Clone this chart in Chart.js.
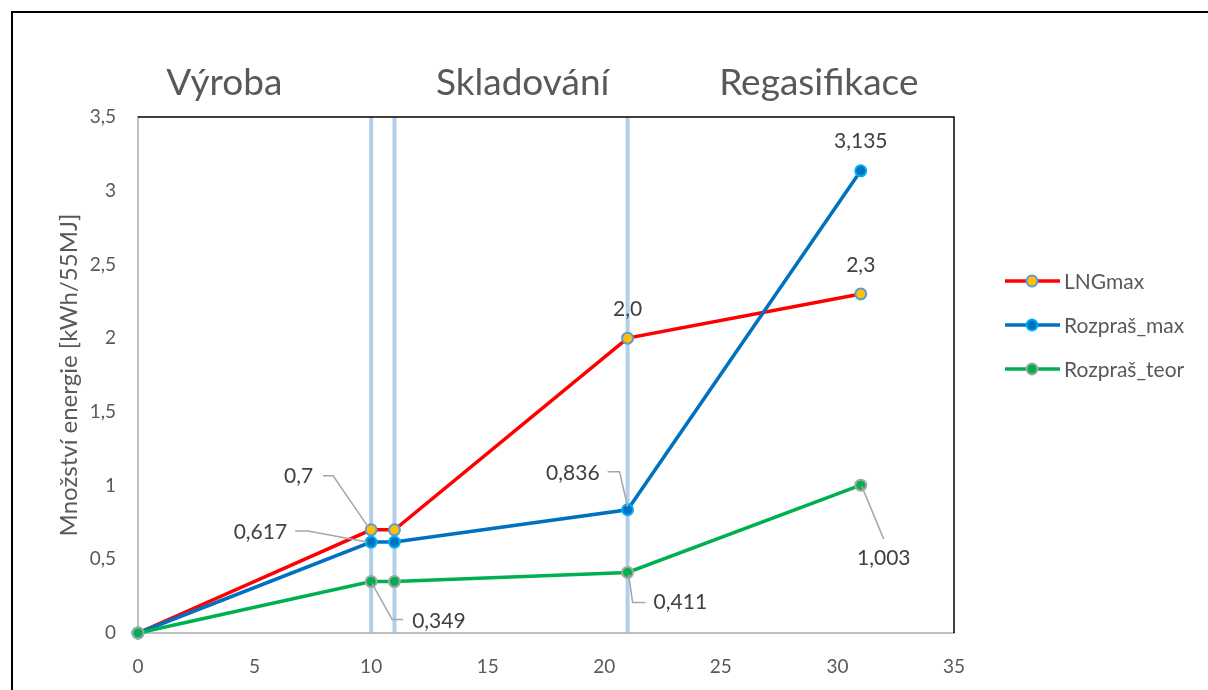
<!DOCTYPE html>
<html lang="cs">
<head>
<meta charset="utf-8">
<title>Množství energie</title>
<script src="https://cdn.jsdelivr.net/npm/chart.js@4.4.1/dist/chart.umd.min.js"></script>
<style>
  html, body { margin: 0; padding: 0; background: #fff; }
  canvas { display: block; }
</style>
</head>
<body>
<canvas id="energyChart" width="1208" height="690"></canvas>
<script>
// hodnoty grafu
const xSteps = [0, 10, 11, 21, 31];
const lngMax = [0, 0.7, 0.7, 2.0, 2.3];
const rozprasMax = [0, 0.617, 0.617, 0.836, 3.135];
const rozprasTeor = [0, 0.349, 0.349, 0.411, 1.003];
const seriesNames = ["LNGmax", "Rozpraš_max", "Rozpraš_teor"];
const phaseNames = ["Výroba", "Skladování", "Regasifikace"];
const phaseBounds = [10, 11, 21];
const xTicks = [0, 5, 10, 15, 20, 25, 30, 35];
const yTicks = [0, 0.5, 1, 1.5, 2, 2.5, 3, 3.5];
const yTitle = "Množství energie [kWh/55MJ]";

const FONT = "Lato, 'Open Sans', sans-serif";
const GREY_TEXT = "#595959";

// vzhled řad
const styles = [
  { line: "#FF0000", fill: "#FFC000", border: "#5B9BD5", decimals: 1 },
  { line: "#0070C0", fill: "#0070C0", border: "#00B0F0", decimals: 3 },
  { line: "#00B050", fill: "#00B050", border: "#A5A5A5", decimals: 3 }
];

// umístění popisků (posun od bodu v px, odkazová čára)
const labelPlacement = [
  {
    1: { dx: -58, dy: -54, align: "right", leader: [[-48, -54], [-38, -54], [-3, -3]] },
    3: { dx: 0, dy: -29, align: "center" },
    4: { dx: 0, dy: -29, align: "center" }
  },
  {
    1: { dx: -84, dy: -10, align: "right", leader: [[-76, -11], [-63, -11], [-4, 0]] },
    3: { dx: -28, dy: -37, align: "right", leader: [[-20, -38], [-8, -38], [0, -3]] },
    4: { dx: 0, dy: -30, align: "center" }
  },
  {
    1: { dx: 41, dy: 40, align: "left", leader: [[1, 2], [21, 38], [32, 38]] },
    3: { dx: 26, dy: 30, align: "left", leader: [[1, 2], [5, 30], [18, 30]] },
    4: { dx: 23, dy: 73, align: "center", leader: [[1, 1], [23, 54]] }
  }
];

// nadpisy fází – střed textu v jednotkách osy x
const phaseTitleAt = [3.7, 16.5, 29.2];

const fmt = (v, d) => v.toFixed(d).replace(".", ",");

const seriesValues = [lngMax, rozprasMax, rozprasTeor];
const datasets = seriesValues.map((vals, i) => ({
  label: seriesNames[i],
  data: vals.map((y, k) => ({ x: xSteps[k], y })),
  showLine: true,
  borderColor: styles[i].line,
  borderWidth: 3.5,
  pointRadius: 5.5,
  pointBorderWidth: 2,
  pointBackgroundColor: styles[i].fill,
  pointBorderColor: styles[i].border,
  order: 2 - i,
  clip: false
}));

// svislé čáry mezi fázemi
const phaseLinesPlugin = {
  id: "phaseLines",
  beforeDatasetsDraw(chart) {
    const { ctx, chartArea, scales: { x } } = chart;
    ctx.save();
    ctx.strokeStyle = "rgba(157,195,230,0.8)";
    ctx.lineWidth = 4;
    phaseBounds.forEach(v => {
      const px = x.getPixelForValue(v);
      ctx.beginPath();
      ctx.moveTo(px, chartArea.top);
      ctx.lineTo(px, chartArea.bottom);
      ctx.stroke();
    });
    ctx.restore();
  }
};

// rámečky, nadpisy, popisky hodnot a legenda
const decorPlugin = {
  id: "decor",
  afterDatasetsDraw(chart) {
    const { ctx, chartArea, scales: { x } } = chart;
    ctx.save();

    // vnější rámeček
    ctx.strokeStyle = "#000";
    ctx.lineWidth = 2;
    ctx.beginPath();
    ctx.moveTo(12, 700);
    ctx.lineTo(12, 12);
    ctx.lineTo(1220, 12);
    ctx.stroke();

    // horní a pravý okraj plochy grafu
    ctx.lineWidth = 1.5;
    ctx.beginPath();
    ctx.moveTo(chartArea.left, chartArea.top);
    ctx.lineTo(chartArea.right, chartArea.top);
    ctx.lineTo(chartArea.right, chartArea.bottom);
    ctx.stroke();

    // nadpisy fází
    ctx.fillStyle = GREY_TEXT;
    ctx.font = "37px " + FONT;
    ctx.textAlign = "center";
    ctx.textBaseline = "middle";
    phaseNames.forEach((t, i) => {
      ctx.fillText(t, x.getPixelForValue(phaseTitleAt[i]), 83);
    });

    // popisky hodnot
    ctx.font = "21px " + FONT;
    ctx.fillStyle = "#404040";
    labelPlacement.forEach((pl, di) => {
      const meta = chart.getDatasetMeta(di);
      Object.keys(pl).forEach(k => {
        const p = pl[k];
        const pt = meta.data[k];
        if (p.leader) {
          ctx.strokeStyle = "#A6A6A6";
          ctx.lineWidth = 1.5;
          ctx.beginPath();
          p.leader.forEach(([lx, ly], j) => {
            if (j === 0) ctx.moveTo(pt.x + lx, pt.y + ly);
            else ctx.lineTo(pt.x + lx, pt.y + ly);
          });
          ctx.stroke();
        }
        ctx.textAlign = p.align;
        ctx.fillText(fmt(seriesValues[di][k], styles[di].decimals), pt.x + p.dx, pt.y + p.dy);
      });
    });

    // legenda
    ctx.font = "21px " + FONT;
    ctx.textAlign = "left";
    seriesNames.forEach((name, i) => {
      const y = 281 + i * 44;
      ctx.strokeStyle = styles[i].line;
      ctx.lineWidth = 3.5;
      ctx.beginPath();
      ctx.moveTo(1005, y);
      ctx.lineTo(1060, y);
      ctx.stroke();
      ctx.beginPath();
      ctx.arc(1032, y, 5.5, 0, Math.PI * 2);
      ctx.fillStyle = styles[i].fill;
      ctx.fill();
      ctx.lineWidth = 2;
      ctx.strokeStyle = styles[i].border;
      ctx.stroke();
      ctx.fillStyle = GREY_TEXT;
      ctx.fillText(name, 1064, y + 1);
    });

    ctx.restore();
  }
};

new Chart(document.getElementById("energyChart"), {
  type: "scatter",
  data: { datasets },
  plugins: [phaseLinesPlugin, decorPlugin],
  options: {
    responsive: false,
    animation: false,
    layout: { padding: { top: 117, right: 254, left: 0, bottom: 0 } },
    plugins: { legend: { display: false }, tooltip: { enabled: false } },
    scales: {
      x: {
        type: "linear",
        min: 0,
        max: 35,
        afterBuildTicks: s => { s.ticks = xTicks.map(v => ({ value: v })); },
        afterFit: s => { s.height = 57; },
        grid: { display: false, drawTicks: false },
        border: { display: true, color: "#BFBFBF", width: 2 },
        ticks: { color: GREY_TEXT, font: { family: FONT, size: 19 }, padding: 22, maxRotation: 0 }
      },
      y: {
        type: "linear",
        min: 0,
        max: 3.5,
        afterBuildTicks: s => { s.ticks = yTicks.map(v => ({ value: v })); },
        afterFit: s => { s.width = 138; },
        grid: { display: false, drawTicks: false },
        border: { display: true, color: "#BFBFBF", width: 2 },
        ticks: {
          color: GREY_TEXT,
          font: { family: FONT, size: 19 },
          padding: 22,
          callback: v => String(v).replace(".", ",")
        },
        title: {
          display: true,
          text: yTitle,
          color: GREY_TEXT,
          font: { family: FONT, size: 24 },
          padding: { top: 55, bottom: 0 }
        }
      }
    }
  }
});
</script>
</body>
</html>
